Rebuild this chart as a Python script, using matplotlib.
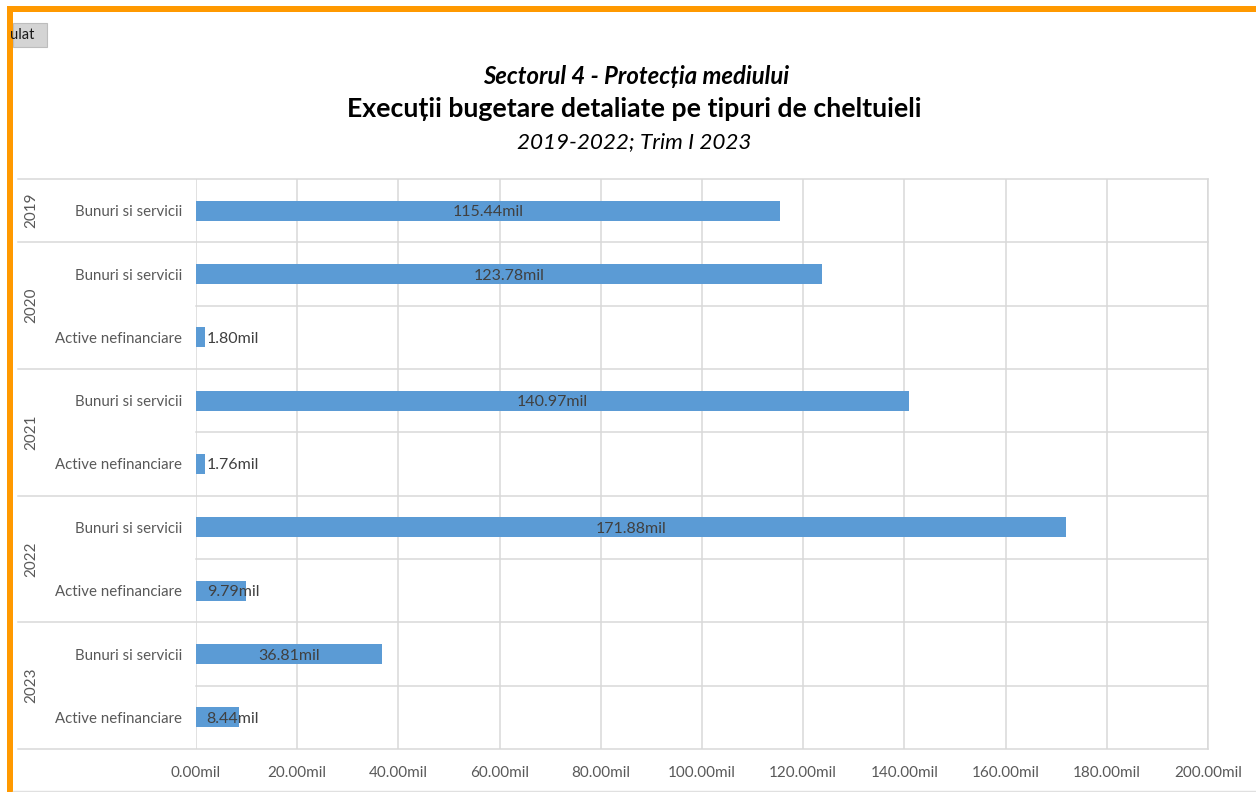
import matplotlib
matplotlib.use("Agg")
import matplotlib.pyplot as plt
from matplotlib.patches import Rectangle
from matplotlib.lines import Line2D
import matplotlib.transforms as mtransforms

plt.rcParams['font.family'] = ['Lato', 'DejaVu Sans']

years = ["2019", "2020", "2021", "2022", "2023"]
categories = ["Bunuri si servicii", "Bunuri si servicii", "Active nefinanciare",
              "Bunuri si servicii", "Active nefinanciare",
              "Bunuri si servicii", "Active nefinanciare",
              "Bunuri si servicii", "Active nefinanciare"]
row_years = ["2019", "2020", "2020", "2021", "2021", "2022", "2022", "2023", "2023"]
values = [115.44, 123.78, 1.80, 140.97, 1.76, 171.88, 9.79, 36.81, 8.44]
xticks = [0, 20, 40, 60, 80, 100, 120, 140, 160, 180, 200]

W, H = 1256, 792
fig = plt.figure(figsize=(W / 100, H / 100), dpi=100)

def fx(px):
    return px / W

def fy(py):
    return 1 - py / H

L, R, T, B = 196, 1208, 179, 749
ax = fig.add_axes([fx(L), fy(B), fx(R) - fx(L), fy(T) - fy(B)])

grid_col = '#D9D9D9'
bar_col = '#5B9BD5'
txt_col = '#595959'

n = len(values)
ypos = list(range(n))
ax.barh(ypos, values, height=0.32, color=bar_col, zorder=3)
ax.set_xlim(0, 200)
ax.set_ylim(n - 0.5, -0.5)

ax.set_xticks(xticks)
ax.set_xticklabels([f"{v:.2f}mil" for v in xticks], fontsize=11, color=txt_col)
ax.tick_params(axis='x', length=0, pad=12)
ax.set_yticks(ypos)
ax.set_yticklabels(categories, fontsize=10.8, color=txt_col)
ax.tick_params(axis='y', length=0, pad=10)
for s in ax.spines.values():
    s.set_visible(False)
ax.xaxis.grid(True, color=grid_col, lw=1.1, zorder=0)
ax.set_axisbelow(True)

# horizontal separators
trans = mtransforms.blended_transform_factory(ax.transAxes, ax.transData)
left_ext = (18 - L) / (R - L)
bounds = [-0.5]
for i in range(1, n):
    if row_years[i] != row_years[i - 1]:
        bounds.append(i - 0.5)
bounds.append(n - 0.5)
for i in range(n + 1):
    yb = i - 0.5
    x0 = left_ext if yb in bounds else 0
    ax.plot([x0, 1], [yb, yb], transform=trans, color=grid_col, lw=1.1,
             clip_on=False, zorder=1)
ax.plot([1, 1], [-0.5, n - 0.5], transform=trans, color=grid_col, lw=1.1,
        clip_on=False, zorder=1)

# year labels
xlab = (31 - L) / (R - L)
for k in range(len(bounds) - 1):
    yc = (bounds[k] + bounds[k + 1]) / 2
    ax.text(xlab, yc, row_years[int(bounds[k] + 0.5)], transform=trans,
            rotation=90, ha='center', va='center', fontsize=11, color=txt_col)

# data labels
for y, v in zip(ypos, values):
    lab = f"{v:.2f}mil"
    if v < 12:
        ax.text(2.1, y, lab, ha='left', va='center_baseline', fontsize=11.5,
                color='#404040', zorder=4)
    else:
        ax.text(v / 2, y, lab, ha='center', va='center_baseline', fontsize=11.5,
                color='#404040', zorder=4)

# titles
fig.text(fx(636), fy(77), "Sectorul 4 - Protecția mediului", ha='center',
         va='center', fontsize=17.2, fontweight='bold', style='italic', color='black')
fig.text(fx(634), fy(109), "Execuții bugetare detaliate pe tipuri de cheltuieli",
         ha='center', va='center', fontsize=19.2, fontweight='bold', color='black')
fig.text(fx(634), fy(142), "2019-2022; Trim I 2023", ha='center', va='center',
         fontsize=16.2, style='italic', color='black')

# frame decorations
orange = '#FF9900'
fig.add_artist(Rectangle((fx(13), fy(47)), fx(47) - fx(13), fy(23) - fy(47),
                         transform=fig.transFigure, facecolor='#D4D4D4',
                         edgecolor='#BDBDBD', lw=0.8))
fig.text(fx(10), fy(35), "ulat", ha='left', va='center', fontsize=10.5, color='#1a1a1a')
fig.add_artist(Rectangle((fx(7), 0), fx(13) - fx(7), fy(6) - 0,
                         transform=fig.transFigure, facecolor=orange, edgecolor='none'))
fig.add_artist(Rectangle((fx(7), fy(12)), 1 - fx(7), fy(6) - fy(12),
                         transform=fig.transFigure, facecolor=orange, edgecolor='none'))
fig.add_artist(Line2D([fx(13), 1], [fy(791), fy(791)], transform=fig.transFigure,
                      color='#E0E0E0', lw=1))

fig.savefig("out.png", dpi=100)
